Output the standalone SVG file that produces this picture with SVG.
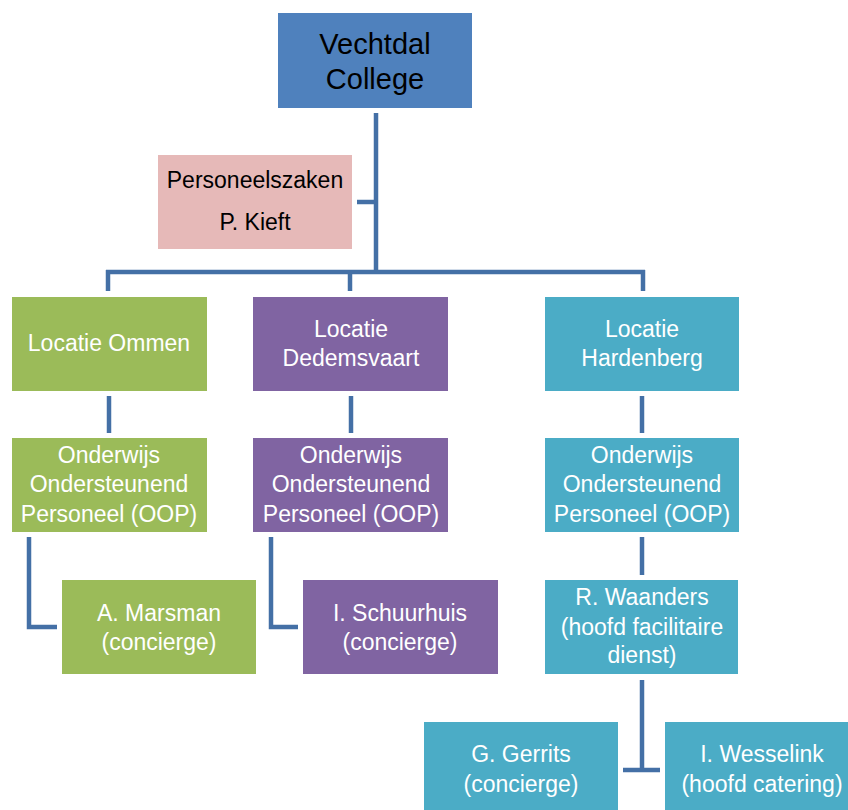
<svg xmlns="http://www.w3.org/2000/svg" width="848" height="810" viewBox="0 0 848 810">
<style>
.ln{fill:none;stroke:#4470A6;stroke-width:4.5;stroke-linecap:butt;stroke-linejoin:miter}
text{font-family:"Liberation Sans",Arial,sans-serif;text-anchor:middle;font-size:23px}
.w{fill:#FFFFFF}
.k{fill:#000000}
.blue{fill:#4F81BD}
.pink{fill:#E6B9B8}
.green{fill:#9BBB59}
.purple{fill:#8064A2}
.aqua{fill:#4BACC6}
</style>
<rect width="848" height="810" fill="#FFFFFF"/>
<g id="connectors">
<path class="ln" d="M376,113 V272"/>
<path class="ln" d="M357,202 H378"/>
<path class="ln" d="M106,272 H645"/>
<path class="ln" d="M108,270 V291"/>
<path class="ln" d="M350,270 V291"/>
<path class="ln" d="M643,270 V291"/>
<path class="ln" d="M109,396 V433"/>
<path class="ln" d="M351,396 V433"/>
<path class="ln" d="M642,396 V433"/>
<path class="ln" d="M29,537 V627 H57"/>
<path class="ln" d="M271,537 V627 H298"/>
<path class="ln" d="M642,537 V575"/>
<path class="ln" d="M642,680 V770"/>
<path class="ln" d="M623,770 H660"/>
</g>
<g id="vechtdal">
<rect class="blue" x="278" y="13" width="194" height="95"/>
<text class="k" x="375" y="54" style="font-size:29px">Vechtdal</text>
<text class="k" x="375" y="89" style="font-size:29px">College</text>
</g>
<g id="personeelszaken">
<rect class="pink" x="158" y="155" width="194" height="94"/>
<text class="k" x="255" y="188">Personeelszaken</text>
<text class="k" x="255" y="230">P. Kieft</text>
</g>
<g id="ommen">
<rect class="green" x="12" y="297" width="195" height="94"/>
<text class="w" x="109" y="351">Locatie Ommen</text>
</g>
<g id="dedemsvaart">
<rect class="purple" x="253" y="297" width="195" height="94"/>
<text class="w" x="351" y="337">Locatie</text>
<text class="w" x="351" y="366">Dedemsvaart</text>
</g>
<g id="hardenberg">
<rect class="aqua" x="545" y="297" width="194" height="94"/>
<text class="w" x="642" y="337">Locatie</text>
<text class="w" x="642" y="366">Hardenberg</text>
</g>
<g id="oop-ommen">
<rect class="green" x="12" y="438" width="195" height="94"/>
<text class="w" x="109" y="463">Onderwijs</text>
<text class="w" x="109" y="492">Ondersteunend</text>
<text class="w" x="109" y="522">Personeel (OOP)</text>
</g>
<g id="oop-dedemsvaart">
<rect class="purple" x="253" y="438" width="195" height="94"/>
<text class="w" x="351" y="463">Onderwijs</text>
<text class="w" x="351" y="492">Ondersteunend</text>
<text class="w" x="351" y="522">Personeel (OOP)</text>
</g>
<g id="oop-hardenberg">
<rect class="aqua" x="545" y="438" width="194" height="94"/>
<text class="w" x="642" y="463">Onderwijs</text>
<text class="w" x="642" y="492">Ondersteunend</text>
<text class="w" x="642" y="522">Personeel (OOP)</text>
</g>
<g id="marsman">
<rect class="green" x="62" y="580" width="194" height="94"/>
<text class="w" x="159" y="621">A. Marsman</text>
<text class="w" x="159" y="650">(concierge)</text>
</g>
<g id="schuurhuis">
<rect class="purple" x="303" y="580" width="195" height="94"/>
<text class="w" x="400" y="621">I. Schuurhuis</text>
<text class="w" x="400" y="650">(concierge)</text>
</g>
<g id="waanders">
<rect class="aqua" x="545" y="580" width="193" height="94"/>
<text class="w" x="642" y="605">R. Waanders</text>
<text class="w" x="642" y="635">(hoofd facilitaire</text>
<text class="w" x="642" y="663">dienst)</text>
</g>
<g id="gerrits">
<rect class="aqua" x="424" y="722" width="194" height="94"/>
<text class="w" x="521" y="762">G. Gerrits</text>
<text class="w" x="521" y="792">(concierge)</text>
</g>
<g id="wesselink">
<rect class="aqua" x="665" y="722" width="194" height="94"/>
<text class="w" x="762" y="762">I. Wesselink</text>
<text class="w" x="762" y="792">(hoofd catering)</text>
</g>
</svg>
